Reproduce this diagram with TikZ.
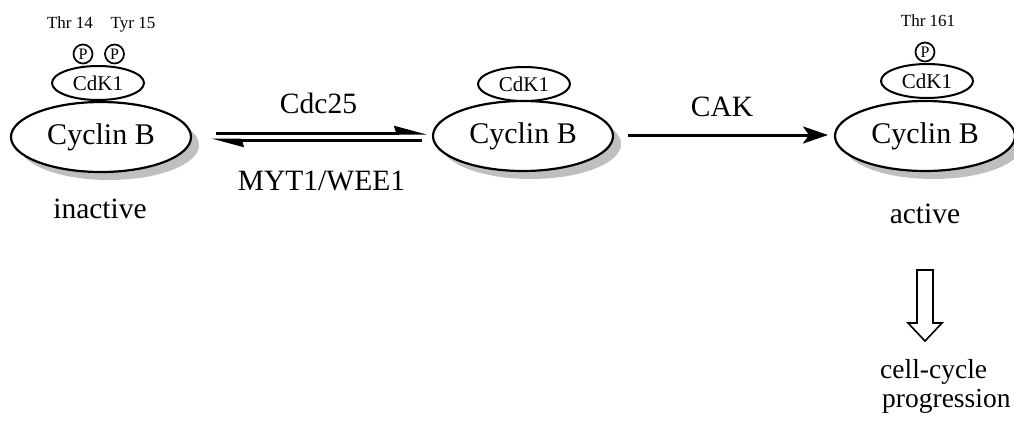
\documentclass[tikz,border=0pt]{standalone}
\usepackage{fontspec}
\setmainfont{Liberation Serif}
\usetikzlibrary{shapes.geometric,arrows.meta}
\begin{document}
\begin{tikzpicture}[x=1pt,y=-1pt,
  cyc/.style={ellipse,draw,line width=2.2pt,fill=white,minimum width=180pt,minimum height=70pt,inner sep=0pt,font=\fontsize{30}{34}\selectfont},
  shad/.style={ellipse,fill=black!25,minimum width=180pt,minimum height=70pt,inner sep=0pt},
  cdk/.style={ellipse,draw,line width=2pt,fill=white,minimum width=92pt,minimum height=34pt,inner sep=0pt,font=\fontsize{21}{24}\selectfont},
  pcirc/.style={circle,draw,line width=1.7pt,fill=white,minimum size=19pt,inner sep=0pt,font=\fontsize{16}{17}\selectfont},
  site/.style={font=\fontsize{17}{20}\selectfont,inner sep=0pt,anchor=base},
  lbl/.style={font=\fontsize{29.5}{34}\selectfont,inner sep=0pt,anchor=base},
  harp/.style={line width=3pt,-{Stealth[harpoon,length=27pt,width=14pt,inset=2pt]}},
  conv/.style={line width=3pt,-{Stealth[length=25pt,width=17pt,inset=6pt]}},
  hollow/.style={draw,line width=1.6pt,fill=white,line join=miter}
]
\useasboundingbox (0,0) rectangle (1014,421);

% shadows
\node[shad] (s1) at (109,145) {};
\node[shad] (s2) at (531,144) {};
\node[shad] (s3) at (933,144) {};

% cyclin B
\node[cyc] (cb1) at (101,137) {Cyclin B};
\node[cyc] (cb2) at (523,136) {Cyclin B};
\node[cyc] (cb3) at (925,136) {Cyclin B};

% CdK1
\node[cdk] (k1) at (98,83) {CdK1};
\node[cdk] (k2) at (524,84) {CdK1};
\node[cdk] (k3) at (927,81) {CdK1};

% phosphates
\node[pcirc] (p1) at (83,54) {P};
\node[pcirc] (p2) at (114.5,54) {P};
\node[pcirc] (p3) at (925,52) {P};

% site labels
\node[site] (t14) at (70,28) {Thr 14};
\node[site] (y15) at (133,28) {Tyr 15};
\node[site] (t161) at (928,26) {Thr 161};

% state labels
\node[lbl] (inact) at (100,218) {inactive};
\node[lbl] (act) at (925,223) {active};

% reversible arrows
\coordinate (u1) at (216,133);
\coordinate (u2) at (427,133);
\coordinate (l1) at (422,140);
\coordinate (l2) at (211,140);
\draw[harp] (u1) -- (u2);
\draw[harp] (l1) -- (l2);
\node[lbl] (cdc) at (318.5,113) {Cdc25};
\node[lbl] (myt) at (321.5,190) {MYT1/WEE1};

% CAK arrow
\coordinate (c1) at (628,135);
\coordinate (c2) at (828,135);
\draw[conv] (c1) -- (c2);
\node[lbl] (cak) at (722,116) {CAK};

% hollow arrow
\draw[hollow] (917,270) -- (933,270) -- (933,323) -- (942,323) -- (925,341) -- (908,323) -- (917,323) -- cycle;

% outcome
\node[font=\fontsize{27.5}{29}\selectfont,inner sep=0pt,anchor=base west] (cc) at (880,378) {cell-cycle};
\node[font=\fontsize{27.5}{29}\selectfont,inner sep=0pt,anchor=base west] (prog) at (882,407) {progression};
\end{tikzpicture}
\end{document}
